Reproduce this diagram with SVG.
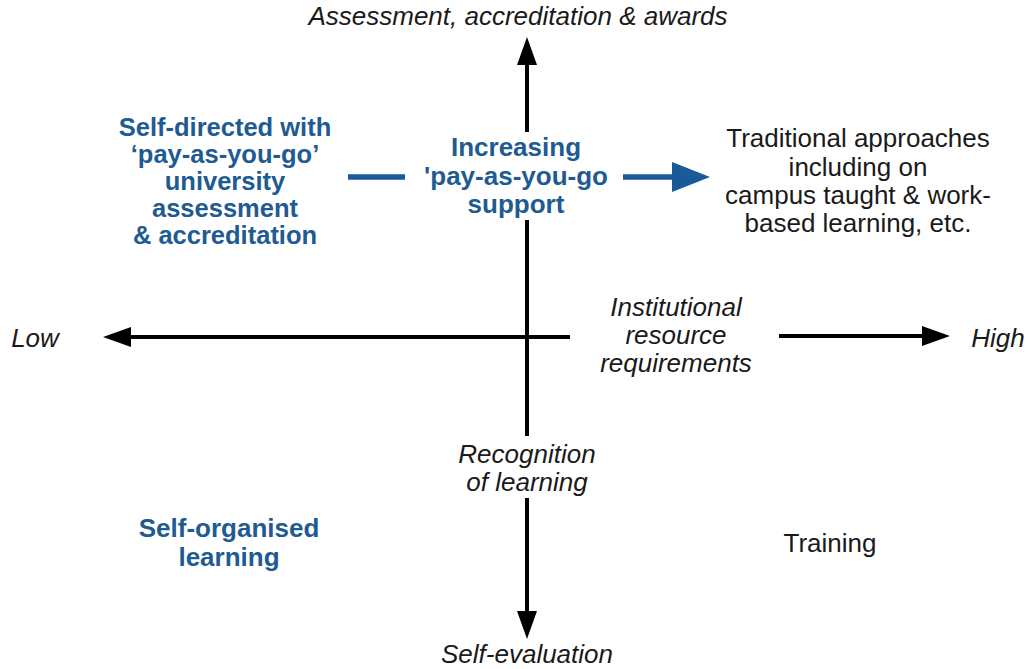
<svg xmlns="http://www.w3.org/2000/svg" width="1031" height="669" viewBox="0 0 1031 669">
<defs>
<marker id="ah" markerUnits="userSpaceOnUse" markerWidth="28" markerHeight="20" refX="0" refY="10" orient="auto" viewBox="0 0 28 20">
<path d="M0,0 L28,10 L0,20 z" fill="#000"/>
</marker>
<marker id="ahb" markerUnits="userSpaceOnUse" markerWidth="38" markerHeight="30" refX="0" refY="15" orient="auto" viewBox="0 0 38 30">
<path d="M0,0 L38,15 L0,30 z" fill="#1a5a98"/>
</marker>
<style>
.ax{stroke:#000;stroke-width:4;fill:none}
.bl{stroke:#1a5a98;stroke-width:5.5;fill:none}
.it{font-family:"Liberation Sans",Arial,sans-serif;font-style:italic;font-size:26px;fill:#1a1a1a;text-anchor:middle}
.rg{font-family:"Liberation Sans",Arial,sans-serif;font-size:26px;fill:#1a1a1a;text-anchor:middle}
.bb{font-family:"Liberation Sans",Arial,sans-serif;font-weight:bold;font-size:26px;fill:#1f5b93;text-anchor:middle}
.bs{font-size:25.5px}
</style>
</defs>
<rect width="1031" height="669" fill="#fff"/>
<g id="connectors">
<line class="ax" x1="527" y1="132" x2="527" y2="65" marker-end="url(#ah)"/>
<line class="ax" x1="527" y1="220" x2="527" y2="436"/>
<line class="ax" x1="527" y1="498" x2="527" y2="611" marker-end="url(#ah)"/>
<line class="ax" x1="570" y1="337" x2="131" y2="337" marker-end="url(#ah)"/>
<line class="ax" x1="779" y1="336" x2="922" y2="336" marker-end="url(#ah)"/>
<line class="bl" x1="348" y1="177" x2="405" y2="177"/>
<line class="bl" x1="623" y1="177" x2="672" y2="177" marker-end="url(#ahb)"/>
</g>
<g id="top-label"><text class="it" x="518" y="25">Assessment, accreditation &amp; awards</text></g>
<g id="bottom-label"><text class="it" x="527" y="663">Self-evaluation</text></g>
<g id="low-label"><text class="it" x="35" y="347">Low</text></g>
<g id="high-label"><text class="it" x="998" y="347">High</text></g>
<g id="resource-label"><text class="it" x="676" y="316">Institutional</text><text class="it" x="676" y="344">resource</text><text class="it" x="676" y="372">requirements</text></g>
<g id="recognition-label"><text class="it" x="527" y="463">Recognition</text><text class="it" x="527" y="491">of learning</text></g>
<g id="increasing"><text class="bb" x="516" y="156">Increasing</text><text class="bb" x="516" y="185">'pay-as-you-go</text><text class="bb" x="516" y="213">support</text></g>
<g id="self-directed"><text class="bb bs" x="225" y="136">Self-directed with</text><text class="bb bs" x="225" y="163">‘pay-as-you-go’</text><text class="bb bs" x="225" y="190">university</text><text class="bb bs" x="225" y="217">assessment</text><text class="bb bs" x="225" y="244">&amp; accreditation</text></g>
<g id="traditional"><text class="rg" x="858" y="147">Traditional approaches</text><text class="rg" x="858" y="176">including on</text><text class="rg" x="858" y="204">campus taught &amp; work-</text><text class="rg" x="858" y="232">based learning, etc.</text></g>
<g id="self-organised"><text class="bb" x="229" y="537">Self-organised</text><text class="bb" x="229" y="566">learning</text></g>
<g id="training"><text class="rg" x="830" y="552">Training</text></g>
</svg>
